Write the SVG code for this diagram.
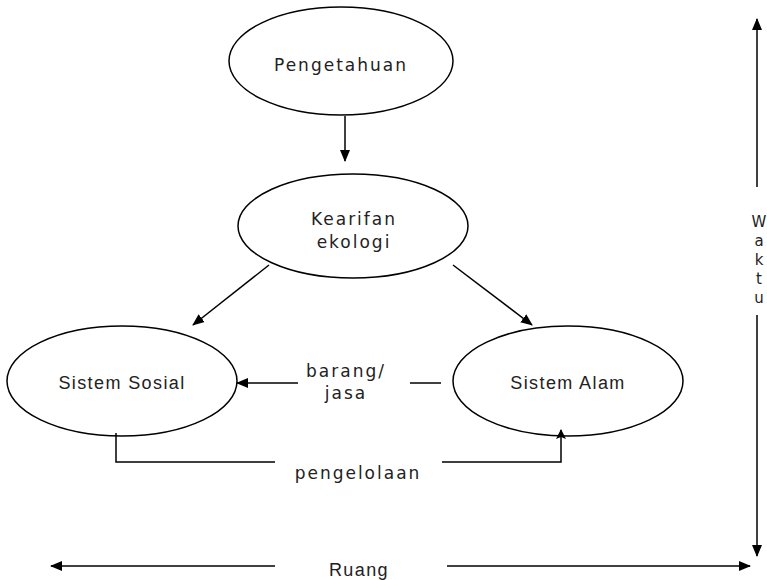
<svg xmlns="http://www.w3.org/2000/svg" width="767" height="580" viewBox="0 0 767 580">
  <style>
    .node { fill: #ffffff; stroke: #000000; stroke-width: 1.5; }
    .wide { font-family: "DejaVu Sans", "Liberation Sans", sans-serif; font-size: 17px; letter-spacing: 2px; fill: #222222; text-anchor: middle; }
    .axis { font-family: "DejaVu Sans", "Liberation Sans", sans-serif; font-size: 15px; fill: #222222; text-anchor: middle; }
    .narrow { font-family: "Liberation Sans", "DejaVu Sans", sans-serif; font-size: 18px; letter-spacing: 1.4px; fill: #222222; text-anchor: middle; }
    .edge { fill: none; stroke: #000000; stroke-width: 1.5; }
  </style>
  <defs>
    <marker id="arrow" markerWidth="12" markerHeight="12" refX="11" refY="6" orient="auto" markerUnits="userSpaceOnUse">
      <path d="M0,1 L12,6 L0,11 z" fill="#000000"/>
    </marker>
    <marker id="arrowSmall" markerWidth="10" markerHeight="12" refX="9" refY="6" orient="auto" markerUnits="userSpaceOnUse">
      <path d="M0,1 L10,6 L0,11 L2,6 z" fill="#000000"/>
    </marker>
  </defs>
  <rect width="767" height="580" fill="#ffffff"/>

  <g id="pengetahuan">
    <ellipse class="node" cx="341" cy="61" rx="112" ry="54"/>
    <text class="wide" x="341" y="71">Pengetahuan</text>
  </g>

  <g id="kearifan-ekologi">
    <ellipse class="node" cx="353" cy="226" rx="115" ry="52"/>
    <text class="wide" x="354" y="225">Kearifan</text>
    <text class="wide" x="354" y="248">ekologi</text>
  </g>

  <g id="sistem-sosial">
    <ellipse class="node" cx="122" cy="381" rx="115" ry="55"/>
    <text class="narrow" x="122" y="389">Sistem Sosial</text>
  </g>

  <g id="sistem-alam">
    <ellipse class="node" cx="568" cy="381" rx="115" ry="55"/>
    <text class="narrow" x="568" y="389">Sistem Alam</text>
  </g>

  <g id="connectors">
    <line class="edge" x1="345" y1="116" x2="345" y2="161" marker-end="url(#arrow)"/>
    <line class="edge" x1="269" y1="265" x2="193" y2="325" marker-end="url(#arrow)"/>
    <line class="edge" x1="453" y1="265" x2="532" y2="325" marker-end="url(#arrow)"/>
    <!-- barang/jasa flow -->
    <line class="edge" x1="410" y1="383" x2="441" y2="383"/>
    <line class="edge" x1="298" y1="383" x2="237" y2="383" marker-end="url(#arrow)"/>
    <!-- pengelolaan flow -->
    <polyline class="edge" points="116,433 116,462 275,462"/>
    <polyline class="edge" points="442,462 561,462 561,430" marker-end="url(#arrowSmall)"/>
    <!-- waktu axis -->
    <line class="edge" x1="757" y1="187" x2="757" y2="19" marker-end="url(#arrow)"/>
    <line class="edge" x1="757" y1="315" x2="757" y2="556" marker-end="url(#arrow)"/>
    <!-- ruang axis -->
    <line class="edge" x1="275" y1="566" x2="51" y2="566" marker-end="url(#arrow)"/>
    <line class="edge" x1="447" y1="566" x2="750" y2="566" marker-end="url(#arrow)"/>
  </g>

  <g id="labels">
    <text class="wide" x="346" y="377">barang/</text>
    <text class="wide" x="346" y="399">jasa</text>
    <text class="wide" x="358" y="479">pengelolaan</text>
    <text class="narrow" x="359" y="576">Ruang</text>
    <text class="axis" x="759" y="227">W</text>
    <text class="axis" x="759" y="246">a</text>
    <text class="axis" x="759" y="265">k</text>
    <text class="axis" x="759" y="284">t</text>
    <text class="axis" x="759" y="303">u</text>
  </g>
</svg>
